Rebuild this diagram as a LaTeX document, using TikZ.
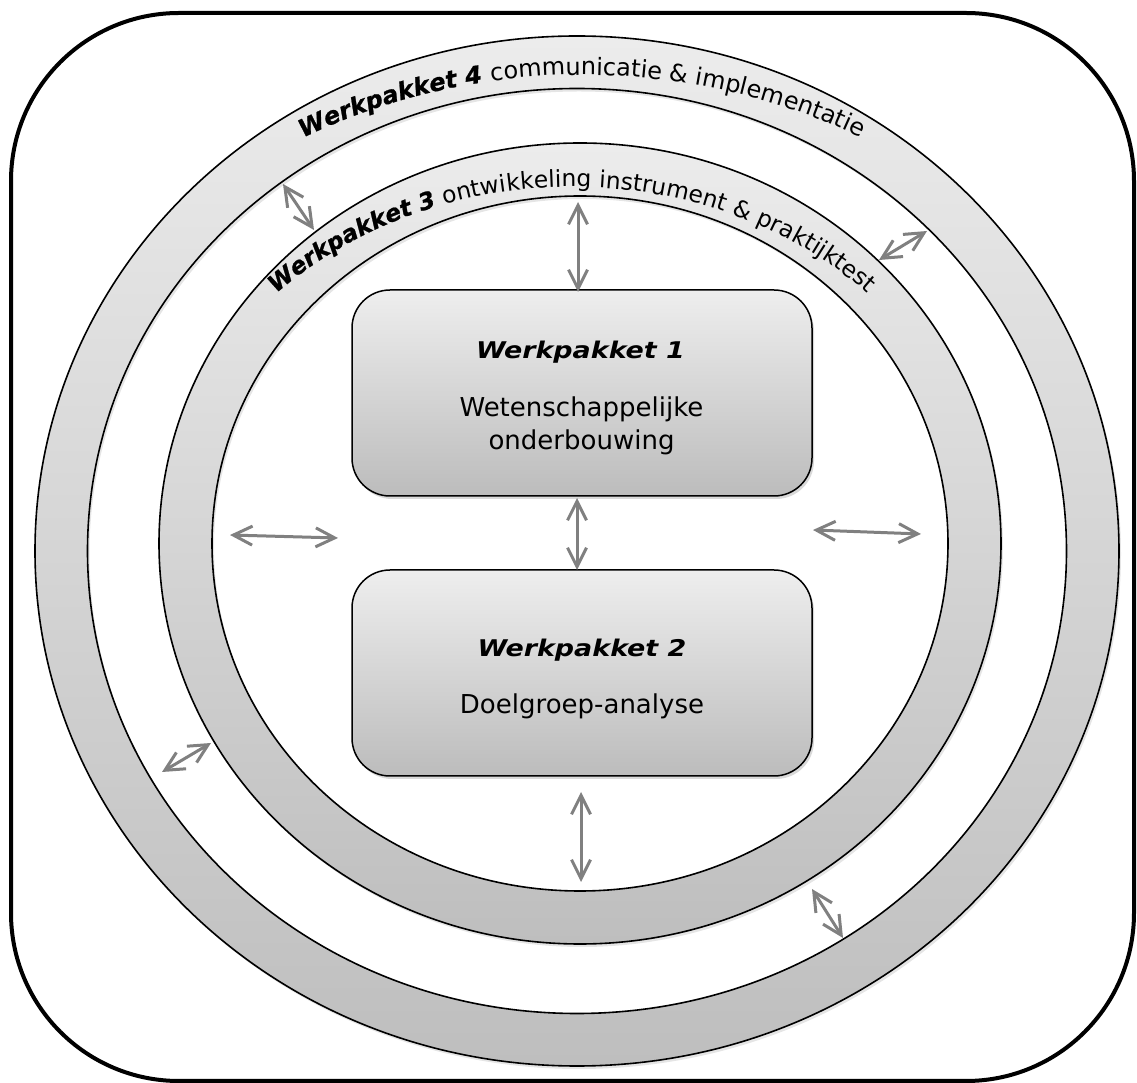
\documentclass[tikz,border=0pt]{standalone}
\usepackage{fontspec}
\setmainfont{DejaVu Sans}
\newfontfamily\wpfont{DejaVu Sans}[FakeStretch=1.17]
\newfontfamily\wpringfont{DejaVu Sans}[FakeBold=1]
\usetikzlibrary{arrows.meta,shadows,decorations.text}
\definecolor{ringtop}{RGB}{236,236,236}
\definecolor{ringbot}{RGB}{190,190,190}
\definecolor{boxtop}{RGB}{238,238,238}
\definecolor{boxbot}{RGB}{188,188,188}
\definecolor{arrowgray}{RGB}{128,128,128}
\newcommand\ringbf{\fontsize{12}{14}\wpringfont\bfseries\itshape}
\newcommand\ringrm{\fontsize{12}{14}\normalfont}
\newcommand\innerbf{\fontsize{11.7}{14}\wpringfont\bfseries\itshape}
\newcommand\innerrm{\fontsize{11.7}{14}\normalfont}
\newcommand\wphead{\fontsize{11.5}{13}\wpfont\bfseries\itshape}
\newcommand\wpbody{\fontsize{13}{16}\normalfont}
\tikzset{
  ringline/.style={draw=black, line width=0.8pt},
  ringfill/.style={top color=ringtop, bottom color=ringbot, even odd rule},
  ringshadow/.style={fill=black, opacity=0.10, even odd rule},
  wpbox/.style={draw=black, line width=0.75pt, rounded corners=19pt,
    minimum width=230pt, minimum height=103pt, inner sep=0pt,
    top color=boxtop, bottom color=boxbot,
    drop shadow={opacity=0.3, shadow xshift=1pt, shadow yshift=-1.5pt}},
  dblarrow/.style={draw=arrowgray, line width=1.5pt,
    {Straight Barb[length=9.5pt,width=9.5pt]}-{Straight Barb[length=9.5pt,width=9.5pt]}},
  ringtext/.style={decorate, decoration={text along path, text align=center, text={#1}}}
}
\begin{document}
\begin{tikzpicture}[x=0.5pt,y=0.5pt]
\useasboundingbox (0,0) rectangle (1137,1083);
% outer frame
\draw[line width=2pt, rounded corners=84pt] (11,2) rectangle (1134,1070);
% outer ring (Werkpakket 4)
\fill[ringshadow] (579,529) ellipse [x radius=542, y radius=515] (579,529) ellipse [x radius=489.5, y radius=462.5];
\shade[ringfill] (577,532) ellipse [x radius=542, y radius=515] (577,532) ellipse [x radius=489.5, y radius=462.5];
\draw[ringline] (577,532) ellipse [x radius=542, y radius=515];
\draw[ringline] (577,532) ellipse [x radius=489.5, y radius=462.5];
% inner ring (Werkpakket 3)
\fill[ringshadow] (582,536.5) ellipse [x radius=421, y radius=400.5] (582,536.5) ellipse [x radius=368, y radius=347.5];
\shade[ringfill] (580,539.5) ellipse [x radius=421, y radius=400.5] (580,539.5) ellipse [x radius=368, y radius=347.5];
\draw[ringline] (580,539.5) ellipse [x radius=421, y radius=400.5];
\draw[ringline] (580,539.5) ellipse [x radius=368, y radius=347.5];
% ring texts
\path[ringtext={|\ringbf|Werkpakket 4 |\ringrm|communicatie {\&} implementatie}]
  (582,532) ++(170:562 and 476) arc[start angle=170, end angle=10, x radius=562, y radius=476];
\path[ringtext={|\innerbf|Werkpakket 3 |\innerrm|ontwikkeling instrument {\&} praktijktest}]
  (572,539.5) ++(170:415 and 356.5) arc[start angle=170, end angle=10, x radius=415, y radius=356.5];
% boxes
\node[wpbox] (b1) at (582,690) {};
\node[wpbox] (b2) at (582,410) {};
\node[anchor=base, font=\wphead] (t1) at (580.5,724) {Werkpakket 1};
\node[anchor=base, font=\wpbody] (t1a) at (581.5,666) {Wetenschappelijke};
\node[anchor=base, font=\wpbody] (t1b) at (581.5,633) {onderbouwing};
\node[anchor=base, font=\wphead] (t2) at (582,426) {Werkpakket 2};
\node[anchor=base, font=\wpbody] (t2a) at (582,369) {Doelgroep-analyse};
% arrow end points
\coordinate (a1s) at (578,881); \coordinate (a1e) at (578,791);
\coordinate (a2s) at (577,585); \coordinate (a2e) at (577,513);
\coordinate (a3s) at (581,291); \coordinate (a3e) at (581,201);
\coordinate (a4s) at (230,548); \coordinate (a4e) at (338,545);
\coordinate (a5s) at (813,553); \coordinate (a5e) at (921,549);
\coordinate (a6s) at (283,899); \coordinate (a6e) at (314,853);
\coordinate (a7s) at (879,823); \coordinate (a7e) at (927,852);
\coordinate (a8s) at (162,311); \coordinate (a8e) at (211,340);
\coordinate (a9s) at (812,194); \coordinate (a9e) at (843,145);
\draw[dblarrow] (a1s) -- (a1e);
\draw[dblarrow] (a2s) -- (a2e);
\draw[dblarrow] (a3s) -- (a3e);
\draw[dblarrow] (a4s) -- (a4e);
\draw[dblarrow] (a5s) -- (a5e);
\draw[dblarrow] (a6s) -- (a6e);
\draw[dblarrow] (a7s) -- (a7e);
\draw[dblarrow] (a8s) -- (a8e);
\draw[dblarrow] (a9s) -- (a9e);
\end{tikzpicture}
\end{document}
